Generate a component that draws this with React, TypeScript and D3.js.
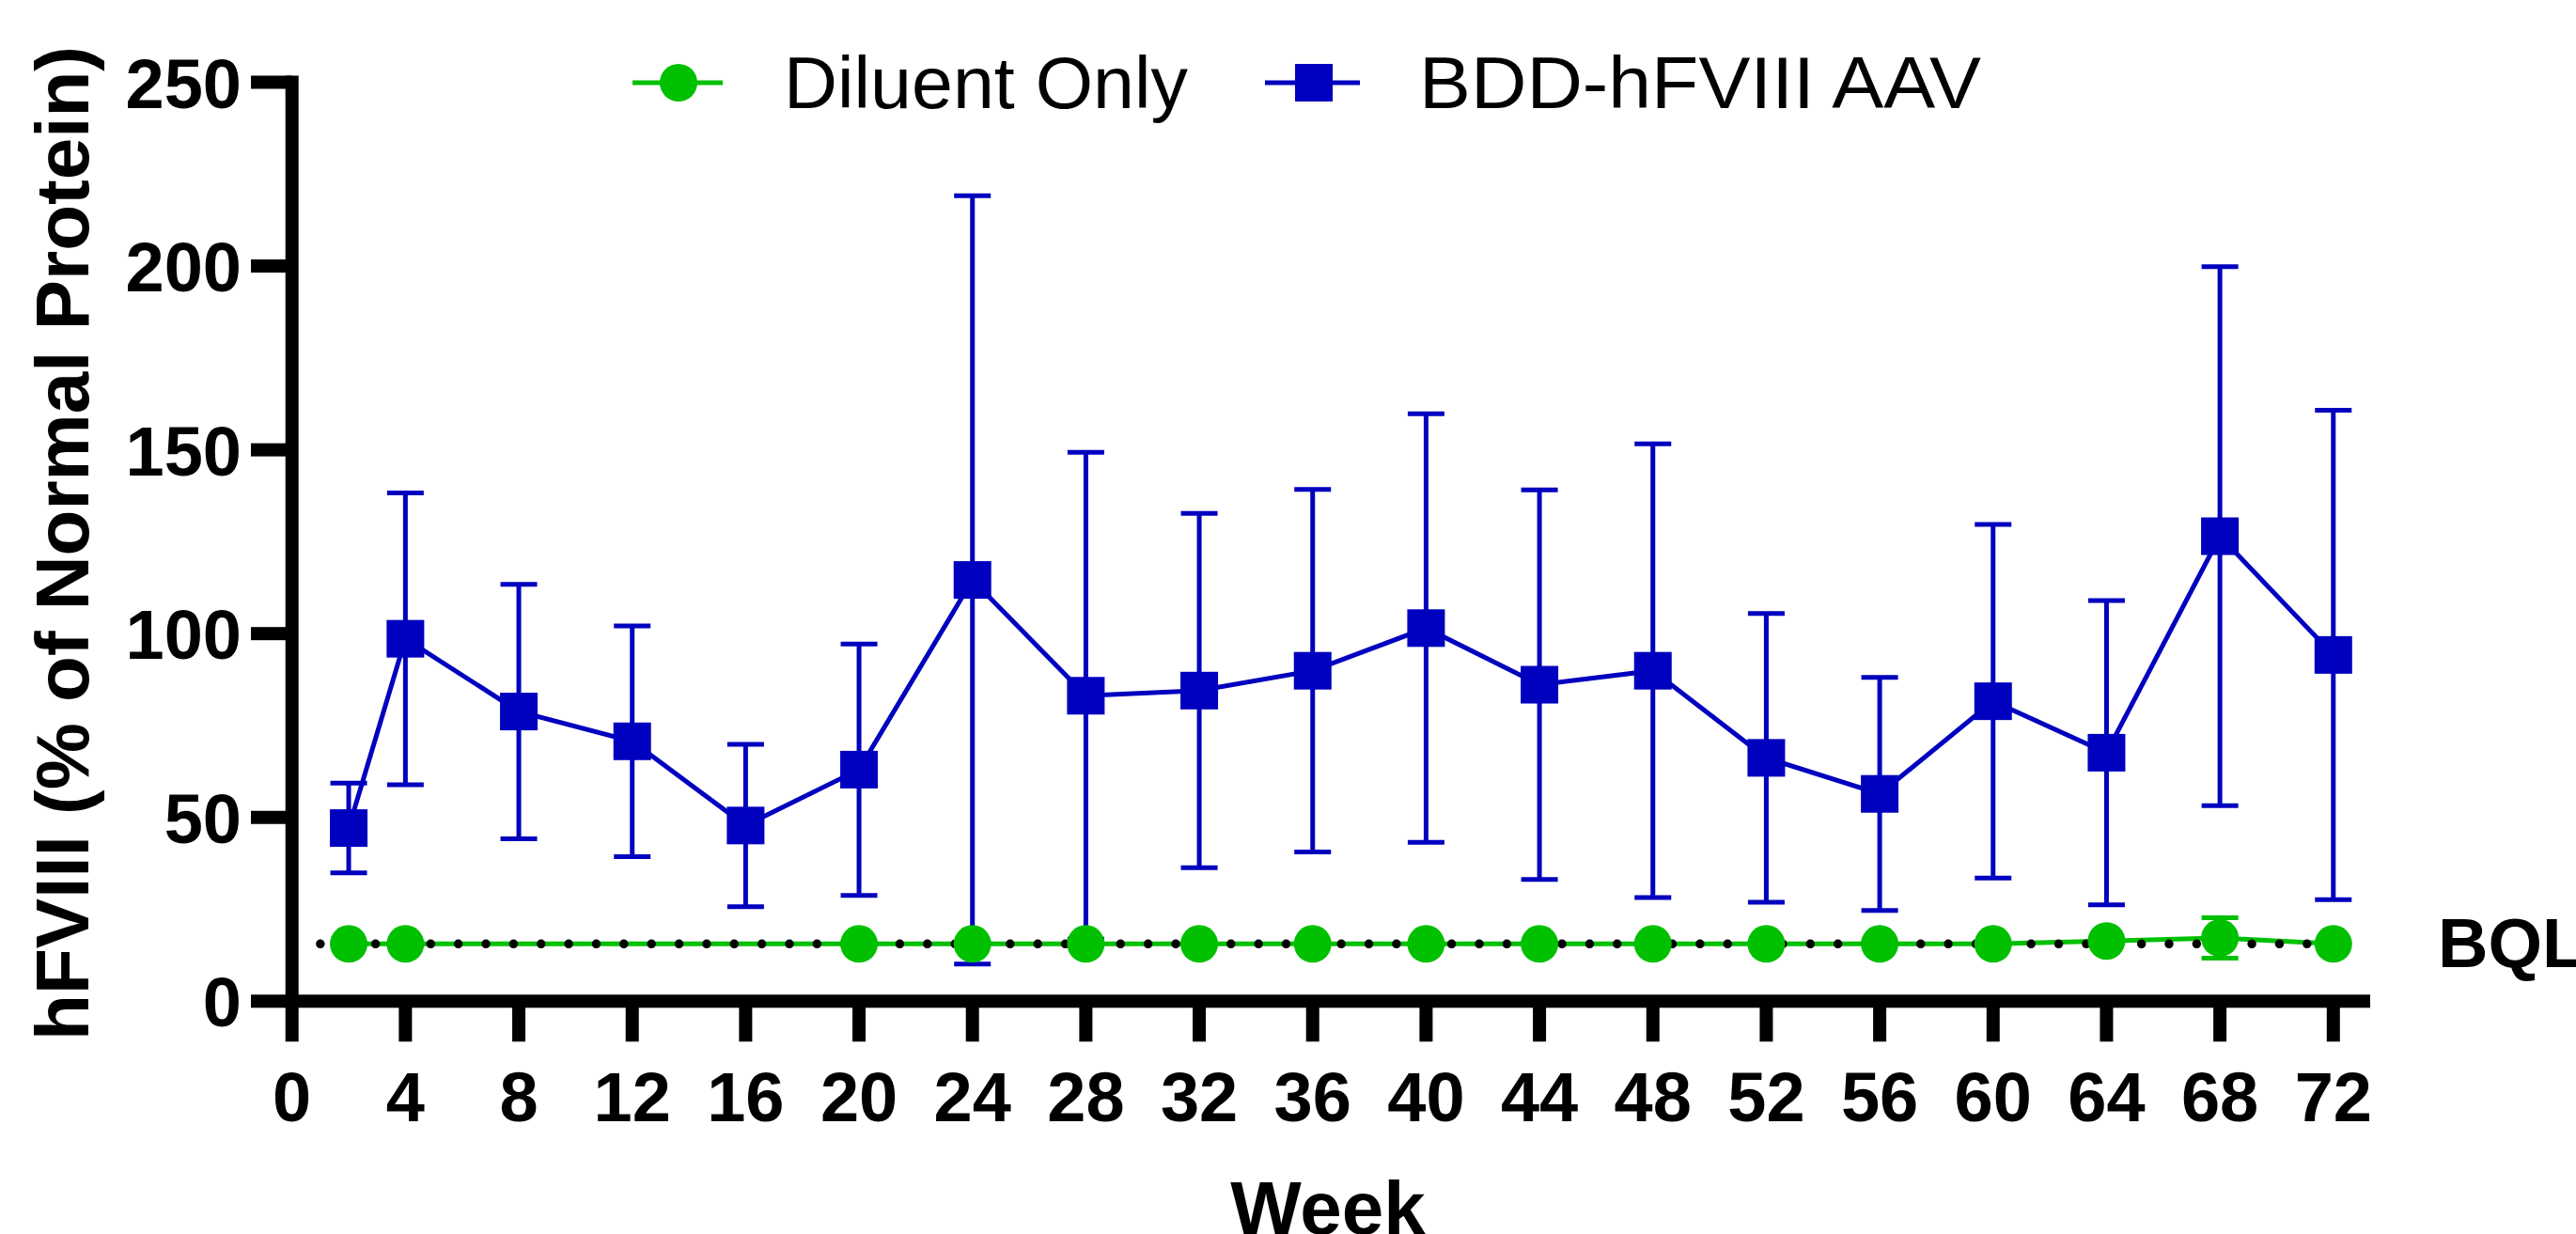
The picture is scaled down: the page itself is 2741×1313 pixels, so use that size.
import React, { useEffect } from "react";
import * as d3 from "d3";

// ---- data ----
const weeks = [2, 4, 8, 12, 16, 20, 24, 28, 32, 36, 40, 44, 48, 52, 56, 60, 64, 68, 72];
const aavMean = [47.1, 98.6, 78.8, 70.7, 47.8, 63.0, 114.6, 83.1, 84.5, 89.9, 101.5, 86.1, 89.9, 66.2, 56.4, 81.6, 67.6, 126.5, 94.2];
const aavSD = [12.2, 39.7, 34.6, 31.4, 22.1, 34.2, 104.5, 66.2, 48.2, 49.3, 58.3, 53.0, 61.7, 39.3, 31.7, 48.1, 41.4, 73.3, 66.6];

const diluentWeeks = [2, 4, 20, 24, 28, 32, 36, 40, 44, 48, 52, 56, 60, 64, 68, 72];
const diluentMean = [15.6, 15.6, 15.6, 15.6, 15.6, 15.6, 15.6, 15.6, 15.6, 15.6, 15.6, 15.6, 15.6, 16.4, 17.2, 15.6];
const diluentSD = [0, 0, 0, 0, 0, 0, 0, 0, 0, 0, 0, 0, 0, 0, 5.5, 0];

const xTicks = [0, 4, 8, 12, 16, 20, 24, 28, 32, 36, 40, 44, 48, 52, 56, 60, 64, 68, 72];
const yTicks = [0, 50, 100, 150, 200, 250];
const bql = 15.6;

const seriesNames = ["Diluent Only", "BDD-hFVIII AAV"];

const BLUE = "#0000BF";
const GREEN = "#00C000";
const FONT = "'Liberation Sans', Arial, Helvetica, sans-serif";

export default function App() {
  useEffect(() => {
    document.body.style.margin = "0";
  }, []);

  const W = 2741;
  const H = 1313;
  const x = d3.scaleLinear().domain([0, 73.3]).range([310.7, 2522]);
  const y = d3.scaleLinear().domain([0, 250]).range([1065.3, 87.5]);

  const line = d3
    .line<[number, number]>()
    .x((d) => x(d[0]))
    .y((d) => y(d[1]));

  const aavPts: [number, number][] = weeks.map((w, i) => [w, aavMean[i]]);
  const dilPts: [number, number][] = diluentWeeks.map((w, i) => [w, diluentMean[i]]);

  const capW = 39;
  const axisW = 14;

  return (
    <svg
      width={W}
      height={H}
      style={{ position: "absolute", left: 0, top: 0, background: "#fff", display: "block" }}
      fontFamily={FONT}
    >
      <rect x={0} y={0} width={W} height={H} fill="#fff" />

      {/* AAV error bars */}
      <g stroke={BLUE} strokeWidth={5} fill="none">
        {weeks.map((w, i) => {
          const cx = x(w);
          const yt = y(aavMean[i] + aavSD[i]);
          const yb = y(aavMean[i] - aavSD[i]);
          return (
            <g key={"e" + w}>
              <line x1={cx} x2={cx} y1={yt} y2={yb} />
              <line x1={cx - capW / 2} x2={cx + capW / 2} y1={yt} y2={yt} />
              <line x1={cx - capW / 2} x2={cx + capW / 2} y1={yb} y2={yb} />
            </g>
          );
        })}
      </g>
      {/* AAV line */}
      <path d={line(aavPts) || ""} fill="none" stroke={BLUE} strokeWidth={5} strokeLinejoin="miter" />
      {/* AAV squares */}
      <g fill={BLUE}>
        {aavPts.map((p) => (
          <rect key={"s" + p[0]} x={x(p[0]) - 20} y={y(p[1]) - 20} width={40} height={40} />
        ))}
      </g>

      {/* Diluent line */}
      <path d={line(dilPts) || ""} fill="none" stroke={GREEN} strokeWidth={5} />
      {/* Diluent error bars */}
      <g stroke={GREEN} strokeWidth={5}>
        {diluentWeeks.map((w, i) =>
          diluentSD[i] > 0 ? (
            <g key={"de" + w}>
              <line x1={x(w)} x2={x(w)} y1={y(diluentMean[i] + diluentSD[i])} y2={y(diluentMean[i] - diluentSD[i])} />
              <line x1={x(w) - capW / 2} x2={x(w) + capW / 2} y1={y(diluentMean[i] + diluentSD[i])} y2={y(diluentMean[i] + diluentSD[i])} />
              <line x1={x(w) - capW / 2} x2={x(w) + capW / 2} y1={y(diluentMean[i] - diluentSD[i])} y2={y(diluentMean[i] - diluentSD[i])} />
            </g>
          ) : null
        )}
      </g>

      {/* BQL dotted line */}
      <line
        x1={x(1)}
        x2={x(73)}
        y1={y(bql)}
        y2={y(bql)}
        stroke="#000"
        strokeWidth={9.5}
        strokeLinecap="round"
        strokeDasharray="0 29.36"
      />

      {/* Diluent circles */}
      <g fill={GREEN}>
        {dilPts.map((p) => (
          <circle key={"c" + p[0]} cx={x(p[0])} cy={y(p[1])} r={20} />
        ))}
      </g>

      {/* BQL label */}
      <text x={2594} y={1029} fontSize={74} fontWeight="bold" fill="#000">
        BQL
      </text>

      {/* Axes */}
      <g fill="#000">
        <rect x={x(0) - axisW / 2} y={y(250) - axisW / 2} width={axisW} height={y(0) - y(250) + axisW} />
        <rect x={x(0) - axisW / 2} y={y(0) - axisW / 2} width={x(73.3) - x(0) + axisW / 2} height={axisW} />
        {yTicks.map((t) => (
          <rect key={"yt" + t} x={267} y={y(t) - axisW / 2} width={x(0) - 267} height={axisW} />
        ))}
        {xTicks.map((t) => (
          <rect key={"xt" + t} x={x(t) - axisW / 2} y={y(0)} width={axisW} height={43} />
        ))}
      </g>

      {/* y tick labels */}
      <g fontSize={74} fontWeight="bold" textAnchor="end" fill="#000">
        {yTicks.map((t) => (
          <text key={"yl" + t} x={257} y={y(t) + 27}>
            {t}
          </text>
        ))}
      </g>
      {/* x tick labels */}
      <g fontSize={74} fontWeight="bold" textAnchor="middle" fill="#000">
        {xTicks.map((t) => (
          <text key={"xl" + t} x={x(t)} y={1193}>
            {t}
          </text>
        ))}
      </g>

      {/* axis titles */}
      <text x={1413} y={1313} fontSize={80} fontWeight="bold" textAnchor="middle" fill="#000">
        Week
      </text>
      <text
        transform="translate(94,578) rotate(-90)"
        fontSize={80}
        fontWeight="bold"
        textAnchor="middle"
        fill="#000"
      >
        hFVIII (% of Normal Protein)
      </text>

      {/* legend */}
      <g>
        <line x1={673} x2={769} y1={88} y2={88} stroke={GREEN} strokeWidth={5} />
        <circle cx={722} cy={88} r={20} fill={GREEN} />
        <text x={834} y={115} fontSize={78} fill="#000" textLength={430} lengthAdjust="spacingAndGlyphs">
          {seriesNames[0]}
        </text>
        <line x1={1346} x2={1447} y1={88} y2={88} stroke={BLUE} strokeWidth={5} />
        <rect x={1378} y={68} width={40} height={40} fill={BLUE} />
        <text x={1510} y={115} fontSize={78} fill="#000" textLength={598} lengthAdjust="spacingAndGlyphs">
          {seriesNames[1]}
        </text>
      </g>
    </svg>
  );
}
